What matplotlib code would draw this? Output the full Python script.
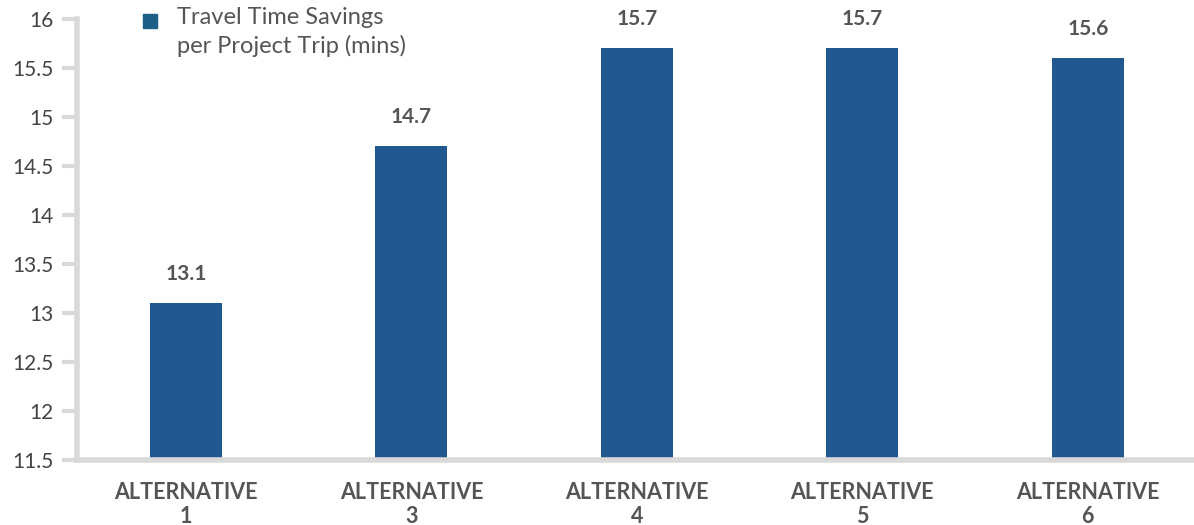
import matplotlib
matplotlib.use('Agg')
import matplotlib.pyplot as plt
from matplotlib.patches import Patch

plt.rcParams['font.family'] = ['Lato', 'DejaVu Sans']

categories = ['ALTERNATIVE\n1', 'ALTERNATIVE\n3', 'ALTERNATIVE\n4', 'ALTERNATIVE\n5', 'ALTERNATIVE\n6']
savings = [13.1, 14.7, 15.7, 15.7, 15.6]
yticks = [11.5, 12, 12.5, 13, 13.5, 14, 14.5, 15, 15.5, 16]
series_name = 'Travel Time Savings\nper Project Trip (mins)'

bar_color = '#21588f'
text_color = '#555555'
axis_color = '#d9d9d9'

fig = plt.figure(figsize=(11.94, 5.25), dpi=100)
ax = fig.add_axes([0.0645, 0.124, 0.941, 0.84])

x = range(len(categories))
ax.bar(x, savings, width=0.32, color=bar_color)
for i, v in zip(x, savings):
    ax.text(i, v + 0.2, f'{v}', ha='center', va='bottom', fontsize=15,
            fontweight='bold', color=text_color)

ax.set_ylim(11.5, 16)
ax.set_xlim(-0.483, 4.5)
ax.set_yticks(yticks)
ax.set_yticklabels([f'{t:g}' for t in yticks], fontsize=15, color='#444444')
ax.set_xticks(list(x))
ax.set_xticklabels(categories, fontsize=15.5, fontweight='bold', color=text_color,
                   linespacing=1.15)

for s in ['top', 'right']:
    ax.spines[s].set_visible(False)
for s in ['left', 'bottom']:
    ax.spines[s].set_color(axis_color)
    ax.spines[s].set_linewidth(4)
ax.tick_params(axis='y', length=11, width=3, color=axis_color, pad=6)
ax.tick_params(axis='x', length=0, pad=16)

fs = 17
leg = ax.legend(handles=[Patch(color='#1d5f88')], labels=[series_name],
                loc='upper left', bbox_to_anchor=(0.04, 1.075), frameon=False,
                fontsize=fs, handlelength=0.6, handleheight=2.5, handletextpad=0.85,
                labelcolor=text_color)
leg.get_texts()[0].set_linespacing(1.4)
# put the legend square next to the first text line
h = leg.legend_handles[0]
full = h.get_height()
h.set_height(0.6 * fs)
h.set_y(h.get_y() + full - 0.6 * fs - 0.12 * fs)

fig.savefig('out.png', dpi=100)
